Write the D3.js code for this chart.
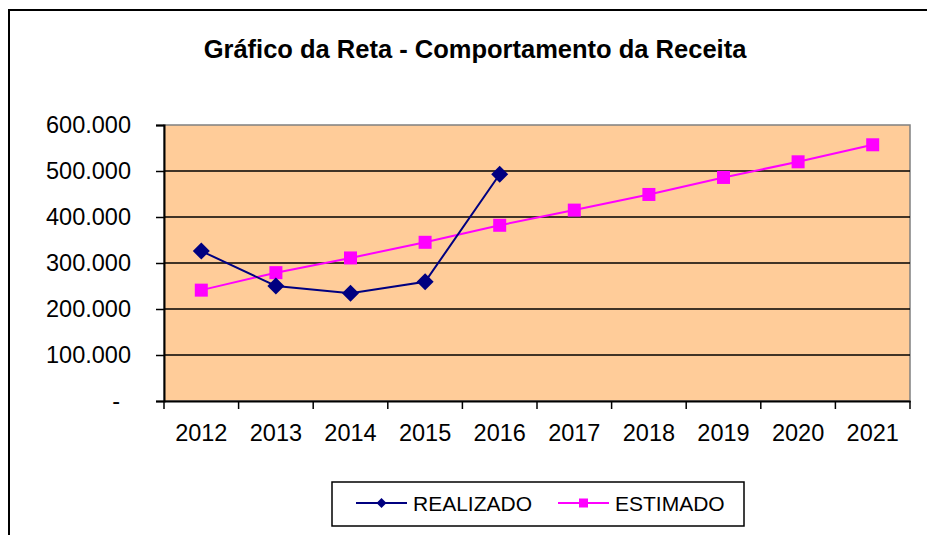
<!DOCTYPE html>
<html>
<head>
<meta charset="utf-8">
<script src="https://cdn.jsdelivr.net/npm/d3@7"></script>
<style>
  html, body { margin: 0; padding: 0; background: #fff; }
  svg { display: block; font-family: "Liberation Sans", Arial, sans-serif; }
</style>
</head>
<body>
<svg id="chart" width="927" height="535"></svg>
<script>
const years = ["2012","2013","2014","2015","2016","2017","2018","2019","2020","2021"];
const realizado = [326000, 250000, 234000, 259000, 493000];
const estimado = [241000, 279000, 311000, 345000, 382000, 415000, 449000, 486000, 520000, 557000];
const yTicks = [0, 100000, 200000, 300000, 400000, 500000, 600000];
const title = "Gráfico da Reta - Comportamento da Receita";

(function () {
const svg = d3.select("#chart");
const pLeft = 164, pRight = 910, pTop = 125, pBottom = 401;
const tickFont = 23.5;

const x = d3.scaleBand().domain(years).range([pLeft, pRight]);
const y = d3.scaleLinear().domain([0, 600000]).range([pBottom, pTop]);

// outer border
svg.append("path")
  .attr("d", "M9,535 L9,10 L927,10")
  .attr("fill", "none").attr("stroke", "#000").attr("stroke-width", 2);

// title
svg.append("text")
  .attr("x", 475).attr("y", 58)
  .attr("text-anchor", "middle")
  .attr("font-weight", "bold")
  .attr("font-size", 25.5)
  .text(title);

// plot background
svg.append("rect")
  .attr("x", pLeft).attr("y", pTop)
  .attr("width", pRight - pLeft).attr("height", pBottom - pTop)
  .attr("fill", "#FFCC99")
  .attr("stroke", "#808080").attr("stroke-width", 1.5);

// gridlines
svg.append("g").selectAll("line")
  .data(yTicks.filter(d => d > 0 && d < 600000))
  .join("line")
  .attr("x1", pLeft).attr("x2", pRight)
  .attr("y1", d => y(d)).attr("y2", d => y(d))
  .attr("stroke", "#000").attr("stroke-width", 1.5);

// y axis
const yAxis = d3.axisLeft(y)
  .tickValues(yTicks)
  .tickSize(8)
  .tickPadding(25)
  .tickFormat(d => d === 0 ? "-" : d3.format(",")(d).replace(/,/g, "."));
const gy = svg.append("g").attr("transform", `translate(${pLeft},0)`).call(yAxis);
gy.select(".domain").attr("stroke", "#000").attr("stroke-width", 2);
gy.selectAll(".tick line").attr("stroke", "#000").attr("stroke-width", 1.5);
gy.selectAll(".tick text")
  .attr("font-size", tickFont).attr("fill", "#000")
  .attr("font-family", "Liberation Sans, Arial, sans-serif")
  .attr("dx", d => d === 0 ? -11 : 0);

// x axis
const xAxis = d3.axisBottom(x).tickSize(0).tickPadding(40);
const gx = svg.append("g").attr("transform", `translate(0,${pBottom})`).call(xAxis);
gx.select(".domain").attr("stroke", "#000").attr("stroke-width", 2);
gx.selectAll(".tick text")
  .attr("font-size", tickFont).attr("fill", "#000")
  .attr("font-family", "Liberation Sans, Arial, sans-serif")
  .attr("dy", "0");
// x tick marks at category boundaries
const bounds = years.map(d => x(d)).concat([x(years[years.length - 1]) + x.bandwidth()]);
svg.append("g").selectAll("line").data(bounds).join("line")
  .attr("x1", d => d).attr("x2", d => d)
  .attr("y1", pBottom).attr("y2", pBottom + 8)
  .attr("stroke", "#000").attr("stroke-width", 1.5);

const cx = (d, i) => x(years[i]) + x.bandwidth() / 2;
const line = d3.line().x((d, i) => cx(d, i)).y(d => y(d));

// estimado
svg.append("path").datum(estimado)
  .attr("d", line).attr("fill", "none")
  .attr("stroke", "#FF00FF").attr("stroke-width", 2);
svg.append("g").selectAll("rect").data(estimado).join("rect")
  .attr("x", (d, i) => cx(d, i) - 6.5).attr("y", d => y(d) - 6.5)
  .attr("width", 13).attr("height", 13).attr("fill", "#FF00FF");

// realizado
svg.append("path").datum(realizado)
  .attr("d", line).attr("fill", "none")
  .attr("stroke", "#000080").attr("stroke-width", 2);
const diamond = s => `M0,${-s} L${s},0 L0,${s} L${-s},0 Z`;
svg.append("g").selectAll("path").data(realizado).join("path")
  .attr("transform", (d, i) => `translate(${cx(d, i)},${y(d)})`)
  .attr("d", diamond(8.5)).attr("fill", "#000080");

// legend
const lg = svg.append("g");
lg.append("rect").attr("x", 332).attr("y", 482).attr("width", 412).attr("height", 44)
  .attr("fill", "#fff").attr("stroke", "#000").attr("stroke-width", 1.5);
const ly = 503;
const legendItems = [
  {name: "REALIZADO", color: "#000080", x0: 356, marker: "diamond"},
  {name: "ESTIMADO", color: "#FF00FF", x0: 558, marker: "square"}
];
legendItems.forEach(it => {
  lg.append("line").attr("x1", it.x0).attr("x2", it.x0 + 51)
    .attr("y1", ly).attr("y2", ly).attr("stroke", it.color).attr("stroke-width", 2);
  if (it.marker === "diamond") {
    lg.append("path").attr("transform", `translate(${it.x0 + 25.5},${ly})`)
      .attr("d", diamond(5)).attr("fill", it.color);
  } else {
    lg.append("rect").attr("x", it.x0 + 25.5 - 4.5).attr("y", ly - 4.5)
      .attr("width", 9).attr("height", 9).attr("fill", it.color);
  }
  lg.append("text").attr("x", it.x0 + 57).attr("y", ly + 7.5)
    .attr("font-size", 21).attr("fill", "#000").text(it.name);
});
})();
</script>
</body>
</html>
